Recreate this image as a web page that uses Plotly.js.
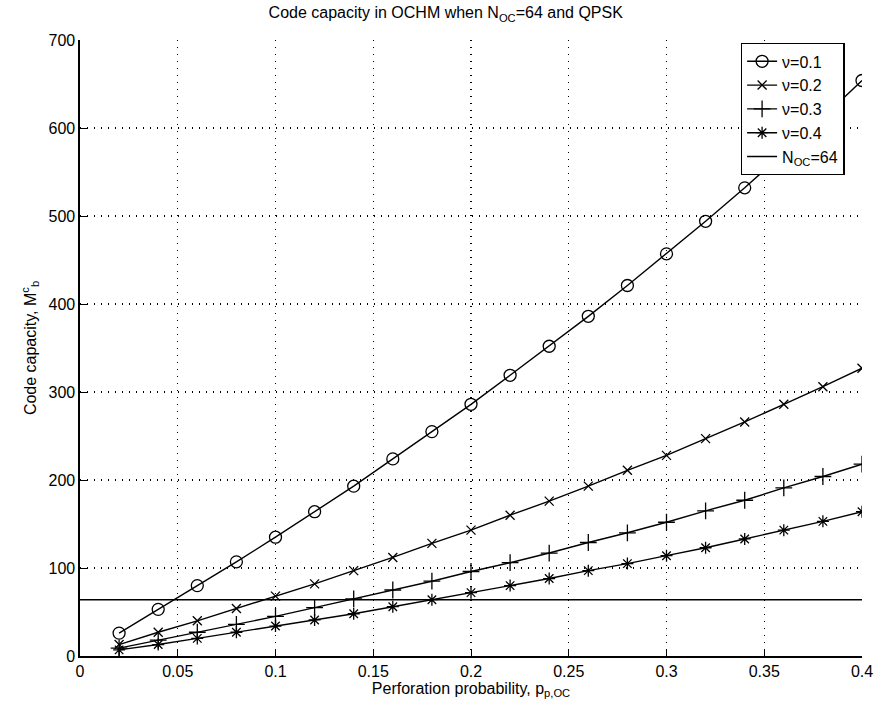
<!DOCTYPE html>
<html><head><meta charset="utf-8">
<script src="https://cdn.plot.ly/plotly-3.0.1.min.js"></script>
<style>html,body{margin:0;padding:0;background:#fff}</style>
</head><body>
<div id="chart" style="width:874px;height:715px"></div>
<script>
var pOC = [0.02,0.04,0.06,0.08,0.10,0.12,0.14,0.16,0.18,0.20,0.22,0.24,0.26,0.28,0.30,0.32,0.34,0.36,0.38,0.40];
var nu01 = [26,53,80,107,135,164,193,224,255,286,319,352,386,421,457,494,532,572,612,654];
var nu02 = [13,27,40,54,68,82,97,112,128,143,160,176,193,211,228,247,266,286,306,327];
var nu03 = [9,18,27,36,45,55,65,75,85,96,106,117,129,140,152,165,177,191,204,218];
var nu04 = [7,13,20,27,34,41,48,56,64,72,80,88,97,105,114,123,133,143,153,164];
var nocX = [0,0.4];
var nocY = [64,64];
var names = ['\u03bd=0.1','\u03bd=0.2','\u03bd=0.3','\u03bd=0.4','N<sub>OC</sub>=64'];

var font = {family:'Liberation Sans, Arial, sans-serif', color:'#000', size:16};
function tr(y, name, sym, sz){
  return {x:pOC, y:y, name:name, mode:'lines+markers', type:'scatter',
    line:{color:'#000', width:1.4},
    marker:{symbol:sym, size:sz, color:'#000', line:{color:'#000', width:1.3}}};
}
var data = [
  tr(nu01, names[0], 'circle-open', 12),
  tr(nu02, names[1], 'x-thin-open', 9),
  tr(nu03, names[2], 'cross-thin-open', 12),
  tr(nu04, names[3], 'asterisk-open', 10),
  {x:nocX, y:nocY, name:names[4], mode:'lines', type:'scatter', line:{color:'#000', width:1.4}}
];
var grid = {showgrid:true, gridcolor:'#000', griddash:'1px,6px', gridwidth:1.2};
var layout = {
  width:874, height:715,
  margin:{l:80, r:12, t:40, b:59},
  paper_bgcolor:'#fff', plot_bgcolor:'#fff',
  font:font,
  showlegend:true,
  title:{text:'Code capacity in OCHM when N<sub>OC</sub>=64 and QPSK', x:0.51, xanchor:'center', y:0.99, yanchor:'top', font:{family:font.family, size:16, color:'#000'}},
  xaxis:Object.assign({range:[0,0.4], dtick:0.05, tick0:0, ticks:'inside', ticklen:7, tickcolor:'#000',
    showline:true, linecolor:'#000', linewidth:1.6, zeroline:false, mirror:false,
    title:{text:'Perforation probability, p<sub>p,OC</sub>', standoff:2, font:{size:16}},
    tickfont:{size:16}}, grid),
  yaxis:Object.assign({range:[0,700], dtick:100, ticks:'inside', ticklen:7, tickcolor:'#000',
    showline:true, linecolor:'#000', linewidth:1.6, zeroline:false, mirror:false,
    title:{text:'Code capacity, M<sup>c</sup><sub>b</sub>', standoff:8, font:{size:16}},
    tickfont:{size:16}}, grid),
  legend:{x:0.978, xanchor:'right', y:0.995, yanchor:'top', bgcolor:'#fff', bordercolor:'#000', borderwidth:1.3,
    font:{size:16}, tracegroupgap:0, itemwidth:30}
};
Plotly.newPlot('chart', data, layout, {displayModeBar:false, staticPlot:true});
</script>
</body></html>
